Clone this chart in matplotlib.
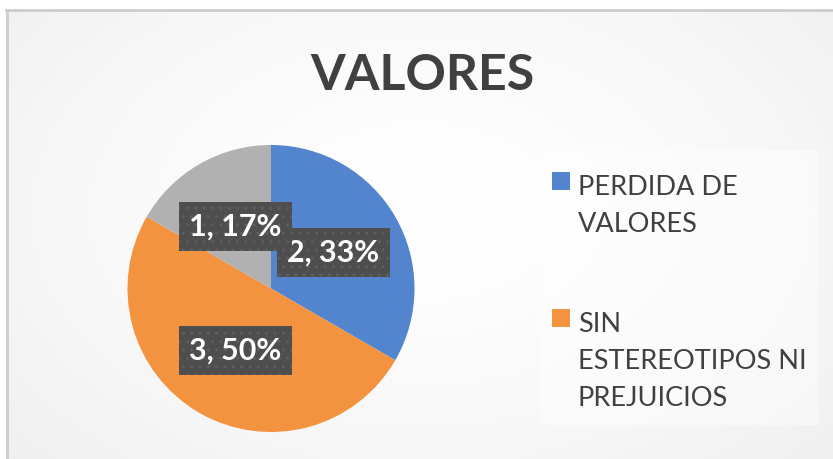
import numpy as np
import matplotlib
matplotlib.use("Agg")
import matplotlib.pyplot as plt
from matplotlib.patches import Rectangle

title = "VALORES"
categories = ["PERDIDA DE\nVALORES", "SIN\nESTEREOTIPOS NI\nPREJUICIOS", "OTROS"]
values = [2, 3, 1]
colors = ["#5385CF", "#F3923F", "#B1B1B1"]

W, H = 833, 459
fig = plt.figure(figsize=(W / 100, H / 100), dpi=100)
fig.patch.set_facecolor("white")


def fx(px):
    return px / W


def fy(py):
    return 1 - py / H


# background panel with soft radial gradient
bg = fig.add_axes([6 / W, 0, 1 - 6 / W, (H - 10) / H])
yy, xx = np.mgrid[0:1:200j, 0:1:400j]
r = np.sqrt(((xx - 0.5) / 0.75) ** 2 + ((yy - 0.55) / 0.9) ** 2)
shade = 1.0 - 0.07 * np.clip(r, 0, 1) ** 1.5
bg.imshow(np.dstack([shade] * 3), extent=[0, 1, 0, 1], aspect="auto", origin="lower")
bg.set_xlim(0, 1)
bg.set_ylim(0, 1)
bg.axis("off")
fig.add_artist(plt.Line2D([fx(6.5), fx(6.5)], [0, fy(10)], color="#cccccc", lw=2))
fig.add_artist(plt.Line2D([fx(6), 1], [fy(10), fy(10)], color="#cccccc", lw=2))

fig.text(fx(422), fy(76), title, ha="center", va="center",
         fontsize=36, fontweight="bold", color="#404040", family="Lato")

# pie
cx, cy, rad = 271, 288.5, 143.5
ax = fig.add_axes([fx(cx - rad), fy(cy + rad), 2 * rad / W, 2 * rad / H])
total = sum(values)
wedges, texts = ax.pie(values, colors=colors, startangle=90, counterclock=False,
                       radius=1.0, wedgeprops=dict(linewidth=0))
ax.set_xlim(-1, 1)
ax.set_ylim(-1, 1)
ax.set_aspect("auto")

for w, v in zip(wedges, values):
    ang = np.deg2rad((w.theta1 + w.theta2) / 2)
    x, y = 0.5 * np.cos(ang), 0.5 * np.sin(ang)
    pct = round(100 * v / total)
    ax.text(x, y, f"{v}, {pct}%", ha="center", va="center", color="white",
            fontsize=22, fontweight="bold", family="Lato",
            bbox=dict(boxstyle="square,pad=0.34", facecolor="#4e4e4e",
                      edgecolor="#5e5e5e", hatch="..", linewidth=0))

# legend (only first two entries visible in the original)
fig.add_artist(Rectangle((fx(540), fy(425)), fx(818) - fx(540), fy(150) - fy(425),
                         transform=fig.transFigure, facecolor="white", alpha=0.45,
                         edgecolor="none", zorder=0.5))
entry_top = [172, 309]
for i, top in enumerate(entry_top):
    fig.add_artist(Rectangle((fx(552), fy(top + 18)), 18 / W, 18 / H,
                             transform=fig.transFigure, facecolor=colors[i],
                             edgecolor="none"))
    for j, line in enumerate(categories[i].split("\n")):
        fig.text(fx(578), fy(top + 23 + 37 * j), line, ha="left", va="baseline",
                 fontsize=19.5, color="#404040", family="Lato")

fig.savefig("out.png", dpi=100)
